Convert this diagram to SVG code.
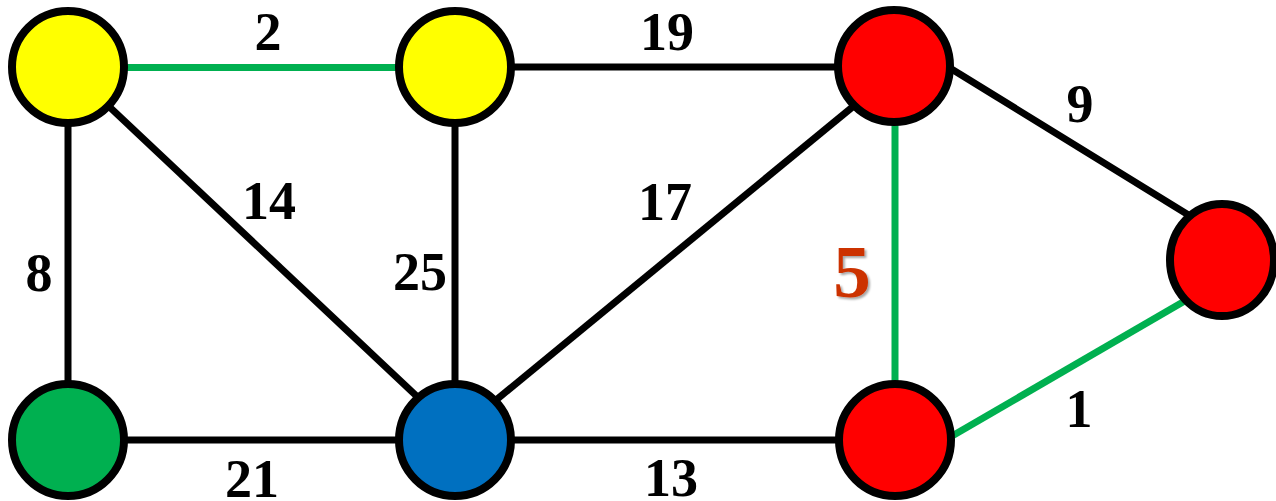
<svg xmlns="http://www.w3.org/2000/svg" width="1276" height="501" viewBox="0 0 1276 501">
<defs>
<style>
.edge{stroke:#000;stroke-width:7;fill:none}
.tree{stroke:#00B050;stroke-width:7;fill:none}
.node{stroke:#000;stroke-width:8}
.lbl{font-family:"Liberation Serif","Times New Roman",serif;font-weight:bold;font-size:54px;fill:#000;text-anchor:middle}
.big{font-size:75px;fill:#CC3300}
</style>
<filter id="sh" x="-20%" y="-20%" width="150%" height="150%">
<feDropShadow dx="2" dy="2" stdDeviation="1.2" flood-color="#000" flood-opacity="0.35"/>
</filter>
</defs>
<rect width="1276" height="501" fill="#fff"/>
<g id="connectors">
<line class="tree" x1="100" y1="67.5" x2="420" y2="67.5"/>
<line class="edge" x1="490" y1="67" x2="860" y2="67"/>
<line class="edge" x1="945" y1="65" x2="1195" y2="219"/>
<line class="tree" x1="895" y1="110" x2="895" y2="395"/>
<line class="tree" x1="940" y1="443" x2="1195" y2="295"/>
<line class="edge" x1="68" y1="110" x2="68" y2="400"/>
<line class="edge" x1="100" y1="98" x2="425" y2="404"/>
<line class="edge" x1="455" y1="110" x2="455" y2="400"/>
<line class="edge" x1="490" y1="405" x2="861" y2="100"/>
<line class="edge" x1="100" y1="440" x2="420" y2="440"/>
<line class="edge" x1="490" y1="440" x2="860" y2="440"/>
</g>
<g id="nodeA"><circle class="node" cx="68" cy="67" r="56" fill="#FFFF00"/></g>
<g id="nodeB"><circle class="node" cx="455" cy="67" r="56" fill="#FFFF00"/></g>
<g id="nodeC"><circle class="node" cx="894" cy="66" r="56" fill="#FF0000"/></g>
<g id="nodeD"><ellipse class="node" cx="1222" cy="260" rx="52" ry="56" fill="#FF0000"/></g>
<g id="nodeE"><circle class="node" cx="68" cy="440" r="56" fill="#00B050"/></g>
<g id="nodeF"><circle class="node" cx="455" cy="440" r="56" fill="#0070C0"/></g>
<g id="nodeG"><circle class="node" cx="895" cy="440" r="56" fill="#FF0000"/></g>
<g id="labels">
<text class="lbl" x="268" y="50">2</text>
<text class="lbl" x="667" y="50">19</text>
<text class="lbl" x="1080" y="122">9</text>
<text class="lbl" x="269" y="219">14</text>
<text class="lbl" x="665" y="220">17</text>
<text class="lbl" x="420" y="290">25</text>
<text class="lbl" x="39" y="291">8</text>
<text class="lbl big" x="852" y="297" filter="url(#sh)">5</text>
<text class="lbl" x="1079" y="427">1</text>
<text class="lbl" x="252" y="497">21</text>
<text class="lbl" x="671" y="496">13</text>
</g>
</svg>
